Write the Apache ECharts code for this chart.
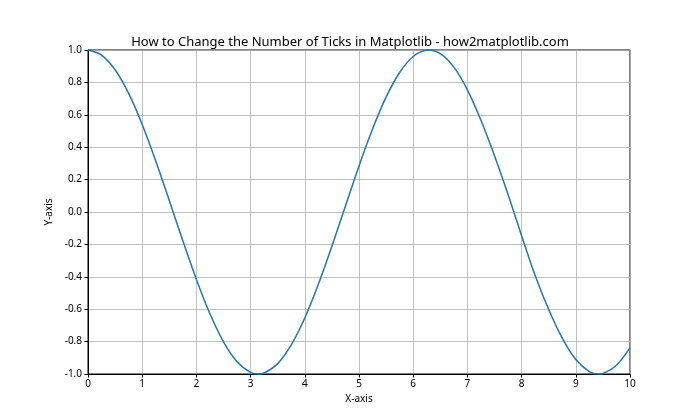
<!DOCTYPE html>
<html><head><meta charset="utf-8">
<script src="https://cdn.jsdelivr.net/npm/echarts@6/dist/echarts.min.js"></script>
<style>html,body{margin:0;padding:0;background:#fff}#c{width:700px;height:420px}</style>
</head><body><div id="c"></div>
<script>
const xValues = [0,0.25,0.5,0.75,1,1.25,1.5,1.75,2,2.25,2.5,2.75,3,3.14,3.25,3.5,3.75,4,4.25,4.5,4.75,5,5.25,5.5,5.75,6,6.28,6.5,6.75,7,7.25,7.5,7.75,8,8.25,8.5,8.75,9,9.25,9.42,9.5,9.75,10];
const yValues = [1,0.969,0.878,0.732,0.540,0.315,0.071,-0.178,-0.416,-0.628,-0.801,-0.924,-0.990,-1.0,-0.994,-0.936,-0.820,-0.654,-0.446,-0.211,0.037,0.284,0.512,0.709,0.861,0.960,1.0,0.977,0.894,0.754,0.566,0.347,0.108,-0.146,-0.392,-0.602,-0.779,-0.911,-0.985,-1.0,-0.997,-0.946,-0.839];
const title = 'How to Change the Number of Ticks in Matplotlib - how2matplotlib.com';
const xName = 'X-axis', yName = 'Y-axis';
const font = 'Noto Sans';
const chart = echarts.init(document.getElementById('c'));
const pts = xValues.map((x,i)=>[x,yValues[i]]);
chart.setOption({
  animation:false,
  title:{text:title,left:'center',top:31,textStyle:{fontFamily:font,fontSize:13,fontWeight:'normal',color:'#000'}},
  grid:{left:88,right:70,top:50,bottom:46,show:true,borderColor:'#000',borderWidth:1},
  xAxis:{type:'value',min:0,max:10,interval:1,name:xName,nameLocation:'middle',nameGap:20,
    nameTextStyle:{fontFamily:font,fontSize:10,color:'#000'},
    axisLine:{show:true,onZero:false,lineStyle:{color:'#000'}},axisTick:{show:true,length:3.5,lineStyle:{color:'#000'}},
    axisLabel:{fontFamily:font,fontSize:10,color:'#000',margin:5},
    splitLine:{show:true,lineStyle:{color:'#b0b0b0',width:0.8}}},
  yAxis:{type:'value',min:-1,max:1,interval:0.2,name:yName,nameLocation:'middle',nameGap:32,nameRotate:90,
    nameTextStyle:{fontFamily:font,fontSize:10,color:'#000'},
    axisLine:{show:true,onZero:false,lineStyle:{color:'#000'}},axisTick:{show:true,length:3.5,lineStyle:{color:'#000'}},
    axisLabel:{fontFamily:font,fontSize:10,color:'#000',margin:6,formatter:v=>v.toFixed(1)},
    splitLine:{show:true,lineStyle:{color:'#b0b0b0',width:0.8}}},
  series:[{type:'line',data:pts,smooth:0.3,showSymbol:false,lineStyle:{color:'#1f77b4',width:1.5},clip:false}]
});
</script></body></html>
